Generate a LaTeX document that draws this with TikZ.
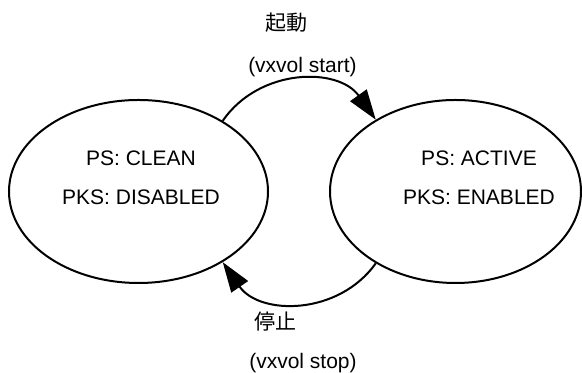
\documentclass[tikz,border=0pt]{standalone}
\usepackage{fontspec}
\setmainfont{Liberation Sans}
\newfontfamily\cjk{Noto Sans CJK JP}
\usetikzlibrary{arrows.meta,shapes.geometric}

\tikzset{
  state/.style={draw,ellipse,line width=1pt,inner sep=0pt,minimum height=91.5pt},
  statetext/.style={align=center,font=\fontsize{10.5}{19.5}\selectfont},
  lbl/.style={font=\fontsize{10.5}{12}\selectfont},
  trans/.style={line width=1pt,-{Triangle[length=15pt,width=10pt]}}
}

\begin{document}
\begin{tikzpicture}[x=0.5pt,y=0.5pt]
    \useasboundingbox (0,0) rectangle (582,373);
    % the two states
    \node[state,minimum width=129.5pt] (clean) at (138.5,181.5) {};
    \node[state,minimum width=125.5pt] (active) at (455.5,181.5) {};
    \node[statetext] (cleantxt) at (141,195) {PS: CLEAN\\PKS: DISABLED};
    \node[statetext] (activetxt) at (479,195) {PS: ACTIVE\\PKS: ENABLED};
    % start / stop
    \draw[trans] (clean.40) to[bend left=55,looseness=1.08] (active.138);
    \draw[trans] (active.222) to[bend left=55,looseness=1.08] (clean.320);
    \node[lbl] (startjp) at (286,350) {\cjk 起動};
    \node[lbl] (startcmd) at (302.5,306) {(vxvol start)};
    \node[lbl] (stopjp) at (275,51) {\cjk 停止};
    \node[lbl] (stopcmd) at (303,10) {(vxvol stop)};
\end{tikzpicture}
\end{document}
